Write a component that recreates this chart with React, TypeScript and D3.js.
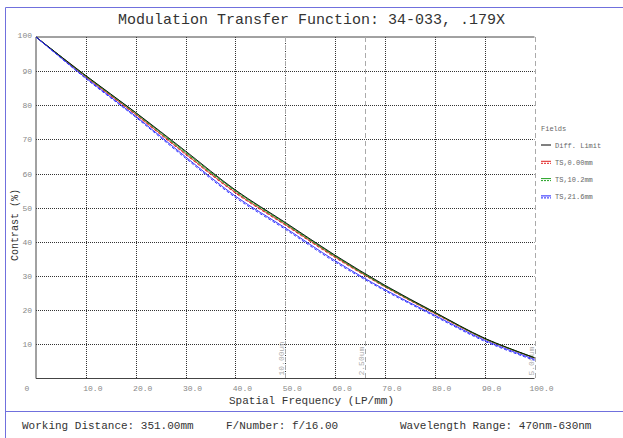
import React, { useRef, useEffect } from "react";
import * as d3 from "d3";

// spatial frequency samples (LP/mm)
const freqs = [0, 10, 20, 30, 40, 50, 60, 70, 80, 90, 100];

// contrast values (%)
const diffLimit = [100, 88.7, 77.9, 66.6, 55.2, 45.7, 36.1, 27.3, 19.4, 11.8, 6.1];
const field0T = [100, 88.4, 77.4, 65.8, 54.5, 45.1, 35.6, 26.9, 19.1, 11.6, 6.0];
const field0S = [100, 88.3, 77.2, 65.6, 54.3, 44.9, 35.4, 26.8, 19.0, 11.6, 6.0];
const field1T = [100, 88.6, 77.8, 66.3, 55.0, 45.5, 35.9, 27.1, 19.3, 11.7, 6.1];
const field1S = [100, 88.5, 77.6, 66.1, 54.8, 45.3, 35.8, 27.0, 19.2, 11.7, 6.0];
const field2T = [100, 88.0, 76.8, 64.9, 53.4, 44.1, 34.5, 26.0, 18.5, 11.2, 5.6];
const field2S = [100, 87.8, 76.5, 64.5, 53.0, 43.7, 34.1, 25.7, 18.2, 10.9, 5.3];

const legendLabels = ["Diff. Limit", "TS,0.00mm", "TS,10.2mm", "TS,21.6mm"];
const legendColors = ["#000000", "#e02020", "#20a020", "#2020ff"];

const xTicks = [0, 10, 20, 30, 40, 50, 60, 70, 80, 90, 100];
const xTickLabels = ["0", "10.0", "20.0", "30.0", "40.0", "50.0", "60.0", "70.0", "80.0", "90.0", "100.0"];
const yTicks = [10, 20, 30, 40, 50, 60, 70, 80, 90, 100];

// detector pixel markers
const markerFreqs = [50, 66, 100];
const markerLabels = ["10.00um", "2.50um", "5.00um"];

const footerTexts = ["Working Distance: 351.00mm", "F/Number: f/16.00", "Wavelength Range: 470nm-630nm"];

const App = () => {
  const svgRef = useRef();

  useEffect(() => {
    const svg = d3.select(svgRef.current);
    svg.selectAll("*").remove();

    const width = 623;
    const height = 438;
    const margin = { top: 37, right: 88, bottom: 59, left: 36 };
    const font = "'Liberation Mono', 'DejaVu Sans Mono', monospace";

    const x = d3.scaleLinear().domain([0, 100]).range([margin.left, width - margin.right - 0.5]);
    const y = d3.scaleLinear().domain([0, 100]).range([height - margin.bottom - 0.5, margin.top]);

    svg.append("rect").attr("width", width).attr("height", height).attr("fill", "#fff");

    // outer frame
    const frame = "#7070dd";
    svg.append("line").attr("x1", 5.5).attr("x2", 5.5).attr("y1", 7.5).attr("y2", height).attr("stroke", frame);
    svg.append("line").attr("x1", 5.5).attr("x2", width).attr("y1", 7.5).attr("y2", 7.5).attr("stroke", frame);
    svg.append("line").attr("x1", 5.5).attr("x2", width).attr("y1", 411.5).attr("y2", 411.5).attr("stroke", frame);

    // title
    svg
      .append("text")
      .attr("x", width / 2)
      .attr("y", 24)
      .attr("text-anchor", "middle")
      .attr("font-family", font)
      .attr("font-size", "15px")
      .attr("fill", "#333")
      .text("Modulation Transfer Function: 34-033, .179X");

    // grid
    const grid = svg.append("g").attr("stroke", "#333").attr("stroke-dasharray", "1,1");
    grid
      .selectAll("line.v")
      .data(xTicks.filter((d) => d > 0 && d < 100))
      .join("line")
      .attr("x1", (d) => Math.round(x(d)) + 0.5)
      .attr("x2", (d) => Math.round(x(d)) + 0.5)
      .attr("y1", y(100))
      .attr("y2", y(0));
    grid
      .selectAll("line.h")
      .data(yTicks.filter((d) => d < 100))
      .join("line")
      .attr("x1", x(0))
      .attr("x2", x(100))
      .attr("y1", (d) => Math.round(y(d)) + 0.5)
      .attr("y2", (d) => Math.round(y(d)) + 0.5);

    // axes lines
    svg.append("line").attr("x1", x(0)).attr("x2", x(0)).attr("y1", y(100)).attr("y2", y(0)).attr("stroke", "#444");
    svg.append("line").attr("x1", x(0)).attr("x2", x(100)).attr("y1", y(0)).attr("y2", y(0)).attr("stroke", "#444");
    svg.append("line").attr("x1", x(0)).attr("x2", x(100)).attr("y1", y(100)).attr("y2", y(100)).attr("stroke", "#444");

    // marker lines
    svg
      .append("g")
      .selectAll("line")
      .data(markerFreqs)
      .join("line")
      .attr("x1", (d) => Math.round(x(d)) + 0.5)
      .attr("x2", (d) => Math.round(x(d)) + 0.5)
      .attr("y1", y(100))
      .attr("y2", y(0))
      .attr("stroke", "#aaa")
      .attr("stroke-dasharray", "5,3");
    svg
      .append("g")
      .selectAll("text")
      .data(markerFreqs)
      .join("text")
      .attr("transform", (d) => `translate(${x(d) - 1},${y(0) - 3}) rotate(-90)`)
      .attr("font-family", font)
      .attr("font-size", "8px")
      .attr("fill", "#aaa")
      .text((d, i) => markerLabels[i]);

    // tick labels
    svg
      .append("g")
      .selectAll("text")
      .data(yTicks)
      .join("text")
      .attr("x", x(0) - 4)
      .attr("y", (d) => y(d) + (d === 100 ? 1 : 3))
      .attr("text-anchor", "end")
      .attr("font-family", font)
      .attr("font-size", "8px")
      .attr("fill", "#888")
      .text((d) => d);
    svg
      .append("g")
      .selectAll("text")
      .data(xTicks)
      .join("text")
      .attr("x", (d) => (d === 0 ? x(d) - 9 : x(d) + 7))
      .attr("y", y(0) + 12)
      .attr("text-anchor", "middle")
      .attr("font-family", font)
      .attr("font-size", "8px")
      .attr("fill", "#888")
      .text((d, i) => xTickLabels[i]);

    // axis titles
    svg
      .append("text")
      .attr("x", width / 2)
      .attr("y", 404)
      .attr("text-anchor", "middle")
      .attr("font-family", font)
      .attr("font-size", "11px")
      .attr("fill", "#333")
      .text("Spatial Frequency (LP/mm)");
    svg
      .append("text")
      .attr("transform", "translate(18,225) rotate(-90)")
      .attr("text-anchor", "middle")
      .attr("font-family", font)
      .attr("font-size", "10px")
      .attr("fill", "#333")
      .text("Contrast (%)");

    // curves
    const line = d3
      .line()
      .x((d) => x(d[0]))
      .y((d) => y(d[1]))
      .curve(d3.curveCatmullRom.alpha(0.5));
    const series = [
      { values: field0S, color: legendColors[1], dash: "3,2" },
      { values: field0T, color: legendColors[1], dash: null },
      { values: field1S, color: legendColors[2], dash: "3,2" },
      { values: field1T, color: legendColors[2], dash: null },
      { values: diffLimit, color: legendColors[0], dash: null },
      { values: field2S, color: legendColors[3], dash: "3,2" },
      { values: field2T, color: legendColors[3], dash: null },
    ];
    svg
      .append("g")
      .selectAll("path")
      .data(series)
      .join("path")
      .attr("d", (s) => line(freqs.map((f, i) => [f, s.values[i]])))
      .attr("fill", "none")
      .attr("stroke", (s) => s.color)
      .attr("stroke-width", 0.9)
      .attr("stroke-dasharray", (s) => s.dash);

    // legend
    const legend = svg.append("g").attr("font-family", font).attr("font-size", "7px").attr("fill", "#666");
    legend.append("text").attr("x", 541).attr("y", 131).text("Fields");
    legendLabels.forEach((label, i) => {
      const ly = 145 + i * 17.3;
      if (i === 0) {
        legend.append("line").attr("x1", 541).attr("x2", 551).attr("y1", ly).attr("y2", ly).attr("stroke", legendColors[i]);
      } else {
        legend.append("line").attr("x1", 541).attr("x2", 551).attr("y1", ly - 1).attr("y2", ly - 1).attr("stroke", legendColors[i]);
        legend
          .append("line")
          .attr("x1", 541)
          .attr("x2", 551)
          .attr("y1", ly + 1)
          .attr("y2", ly + 1)
          .attr("stroke", legendColors[i])
          .attr("stroke-dasharray", "2,1");
      }
      legend.append("text").attr("x", 555).attr("y", ly + 2.5).text(label);
    });

    // footer
    const footerX = [22, 226, 400];
    svg
      .append("g")
      .selectAll("text")
      .data(footerTexts)
      .join("text")
      .attr("x", (d, i) => footerX[i])
      .attr("y", 429)
      .attr("font-family", font)
      .attr("font-size", "11px")
      .attr("fill", "#333")
      .text((d) => d);
  }, []);

  return <svg ref={svgRef} width={623} height={438} style={{ position: "absolute", left: 0, top: 0 }}></svg>;
};

export default App;
